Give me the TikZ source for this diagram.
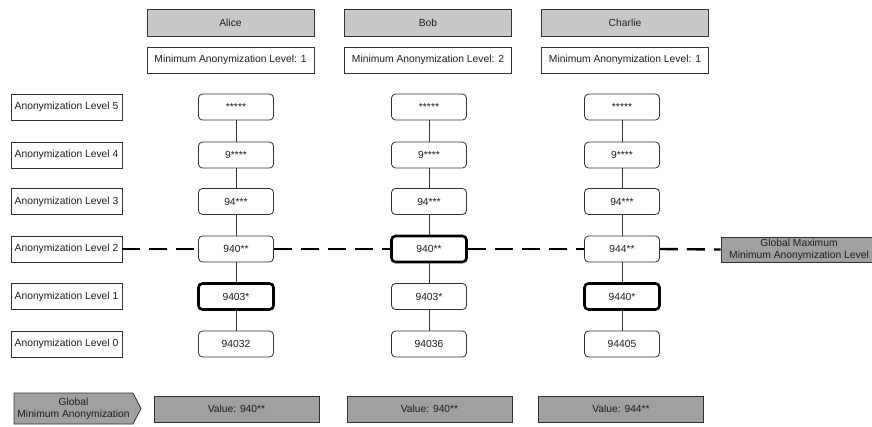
\documentclass[tikz,border=0pt]{standalone}
\usepackage{fontspec}
\setmainfont{Liberation Sans}
\usetikzlibrary{shapes.symbols}
\definecolor{edge}{RGB}{50,50,50}
\definecolor{ink}{RGB}{30,30,30}
\definecolor{headfill}{RGB}{200,200,200}
\definecolor{valfill}{RGB}{160,160,160}
\begin{document}
\begin{tikzpicture}[x=1pt,y=-1pt,
  every node/.style={font=\fontsize{10.3}{12}\selectfont, text=ink, inner sep=0pt, align=center},
  plainbox/.style={draw=edge, line width=0.8pt, fill=white, minimum height=26pt},
  levelbox/.style={plainbox, minimum width=111pt},
  headbox/.style={draw=edge, line width=0.8pt, fill=headfill, minimum width=167pt, minimum height=27pt},
  minbox/.style={plainbox, minimum width=167pt},
  valbox/.style={plainbox, rounded corners=4pt, minimum width=75pt},
  chosen/.style={valbox, line width=2.6pt, draw=black},
  resbox/.style={draw=edge, line width=0.8pt, fill=valfill, minimum width=165pt, minimum height=26pt},
  link/.style={draw=edge, line width=0.8pt},
  cutline/.style={draw=black, line width=2.4pt, dash pattern=on 18pt off 9pt}]
\clip (0,0) rectangle (872,426);
\fill[white] (0,0) rectangle (872,426);

% column headers
\node[headbox] (hA) at (230.5,22.5) {Alice};
\node[headbox] (hB) at (428,22.5) {Bob};
\node[headbox] (hC) at (625,22.5) {Charlie};
\node[minbox] (mA) at (230.5,60) {Minimum Anonymization Level: 1};
\node[minbox] (mB) at (428,60) {Minimum Anonymization Level: 2};
\node[minbox] (mC) at (625,60) {Minimum Anonymization Level: 1};

% row labels
\node[levelbox] (l5) at (66.5,107) {Anonymization Level 5};
\node[levelbox] (l4) at (66.5,155) {Anonymization Level 4};
\node[levelbox] (l3) at (66.5,201.5) {Anonymization Level 3};
\node[levelbox] (l2) at (66.5,249) {Anonymization Level 2};
\node[levelbox] (l1) at (66.5,296.5) {Anonymization Level 1};
\node[levelbox] (l0) at (66.5,344) {Anonymization Level 0};

% Alice
\node[valbox] (a5) at (236,107) {*****};
\node[valbox] (a4) at (236,155) {9****};
\node[valbox] (a3) at (236,201.5) {94***};
\node[valbox] (a2) at (236,249) {940**};
\node[chosen] (a1) at (236,296.5) {9403*};
\node[valbox] (a0) at (236,344) {94032};

% Bob
\node[valbox] (b5) at (429,107) {*****};
\node[valbox] (b4) at (429,155) {9****};
\node[valbox] (b3) at (429,201.5) {94***};
\node[chosen] (b2) at (429,249) {940**};
\node[valbox] (b1) at (429,296.5) {9403*};
\node[valbox] (b0) at (429,344) {94036};

% Charlie
\node[valbox] (c5) at (622,107) {*****};
\node[valbox] (c4) at (622,155) {9****};
\node[valbox] (c3) at (622,201.5) {94***};
\node[valbox] (c2) at (622,249) {944**};
\node[chosen] (c1) at (622,296.5) {9440*};
\node[valbox] (c0) at (622,344) {94405};

% generalisation chains
\foreach \p in {a,b,c}{
  \draw[link] (\p5) -- (\p4);
  \draw[link] (\p4) -- (\p3);
  \draw[link] (\p3) -- (\p2);
  \draw[link] (\p2) -- (\p1);
  \draw[link] (\p1) -- (\p0);
}

% global maximum of the minimum levels
\node[draw=edge, line width=0.8pt, fill=valfill, minimum width=156pt, minimum height=25pt] (gmax) at (799,249.5)
  {Global Maximum\\Minimum Anonymization Level};
\draw[cutline] (l2.east) -- (a2.west);
\draw[cutline] (a2.east) -- (b2.west);
\draw[cutline] (b2.east) -- (c2.west);
\draw[cutline] (c2.east) -- (gmax.west);

% resulting values
\node[signal, signal to=east, signal pointer angle=125, draw=edge, line width=0.8pt, fill=valfill,
      minimum width=127pt, minimum height=31pt] (glob) at (73.5,408.5)
  {Global\\Minimum Anonymization};
\node[resbox] (vA) at (236.5,409) {Value: 940**};
\node[resbox] (vB) at (429.5,409) {Value: 940**};
\node[resbox] (vC) at (621,409) {Value: 944**};
\end{tikzpicture}
\end{document}
